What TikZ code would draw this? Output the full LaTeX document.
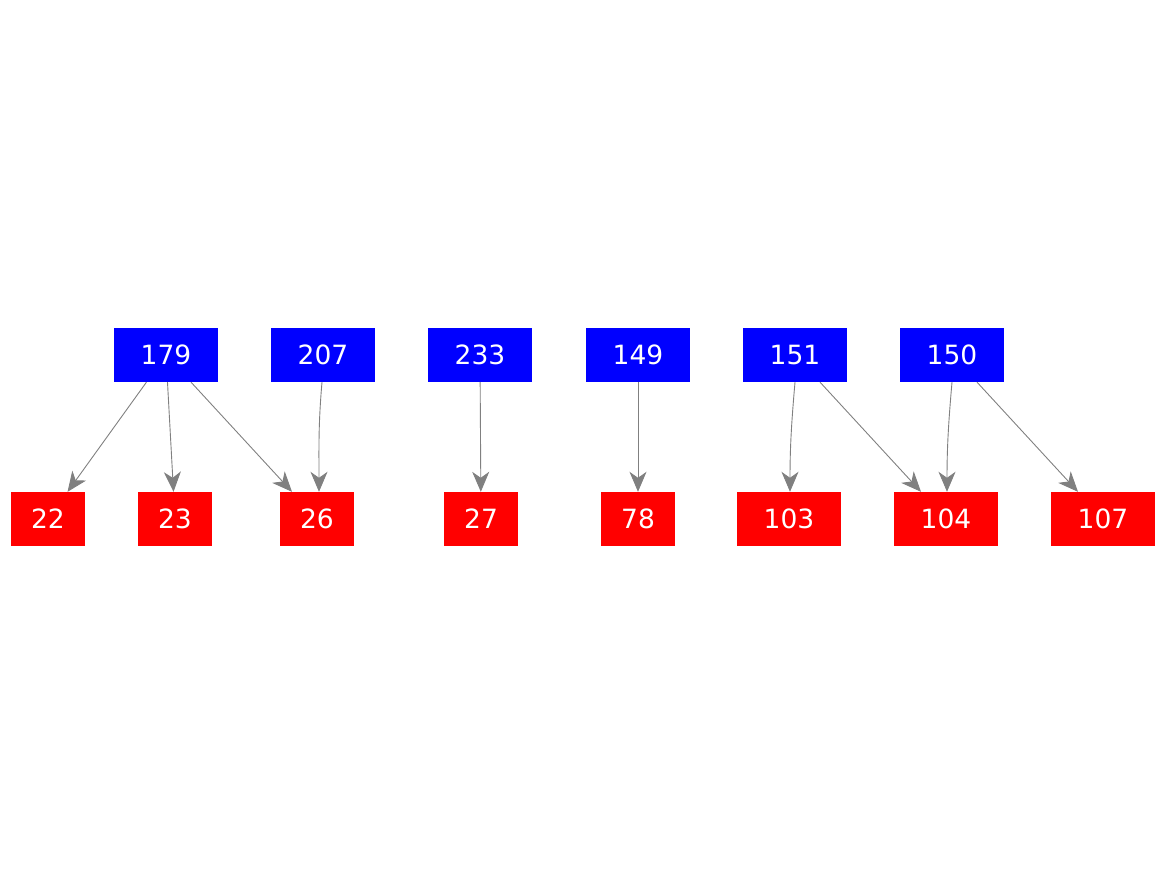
\documentclass[tikz,border=0pt]{standalone}
\usepackage{fontspec}
\setmainfont{DejaVu Sans}
\usetikzlibrary{arrows.meta}
\tikzstyle{src} = [rectangle, minimum width=104pt, minimum height=54pt, inner sep=0pt, text centered, fill=blue, text=white, font=\fontsize{26.5}{30}\selectfont]
\tikzstyle{dst} = [rectangle, minimum width=74pt, minimum height=54pt, inner sep=0pt, text centered, fill=red, text=white, font=\fontsize{26.5}{30}\selectfont]
\tikzstyle{dstL} = [dst, minimum width=104pt]
\tikzstyle{arrow} = [draw=gray, line width=0.9pt, -{Stealth[length=20pt, width=17pt, inset=6pt]}]

\begin{document}
\begin{tikzpicture}[x=1pt, y=-1pt]
\useasboundingbox (0,0) rectangle (1167,875);
% top row
\node (n179) [src] at (166,355) {179};
\node (n207) [src] at (323,355) {207};
\node (n233) [src] at (480,355) {233};
\node (n149) [src] at (638,355) {149};
\node (n151) [src] at (795,355) {151};
\node (n150) [src] at (952,355) {150};
% bottom row
\node (n22) [dst] at (48,519) {22};
\node (n23) [dst] at (175,519) {23};
\node (n26) [dst] at (317,519) {26};
\node (n27) [dst] at (481,519) {27};
\node (n78) [dst] at (638,519) {78};
\node (n103) [dstL] at (789,519) {103};
\node (n104) [dstL] at (946,519) {104};
\node (n107) [dstL] at (1103,519) {107};
\draw [arrow] (n179) -- (n22);
\draw [arrow] (n179) -- (n23);
\draw [arrow] (n179) -- (n26);
\draw [arrow] (n207.south) ++(-1,0) coordinate (s207) (s207) to[out=-95, in=90] ([xshift=2pt]n26.north);
\draw [arrow] (n233) -- (n27);
\draw [arrow] (n149) -- (n78);
\draw [arrow] (n151.south) to[out=-95, in=90] ([xshift=1pt]n103.north);
\draw [arrow] (n151) -- (n104);
\draw [arrow] (n150.south) to[out=-95, in=90] ([xshift=1pt]n104.north);
\draw [arrow] (n150) -- (n107);
\end{tikzpicture}
\end{document}
